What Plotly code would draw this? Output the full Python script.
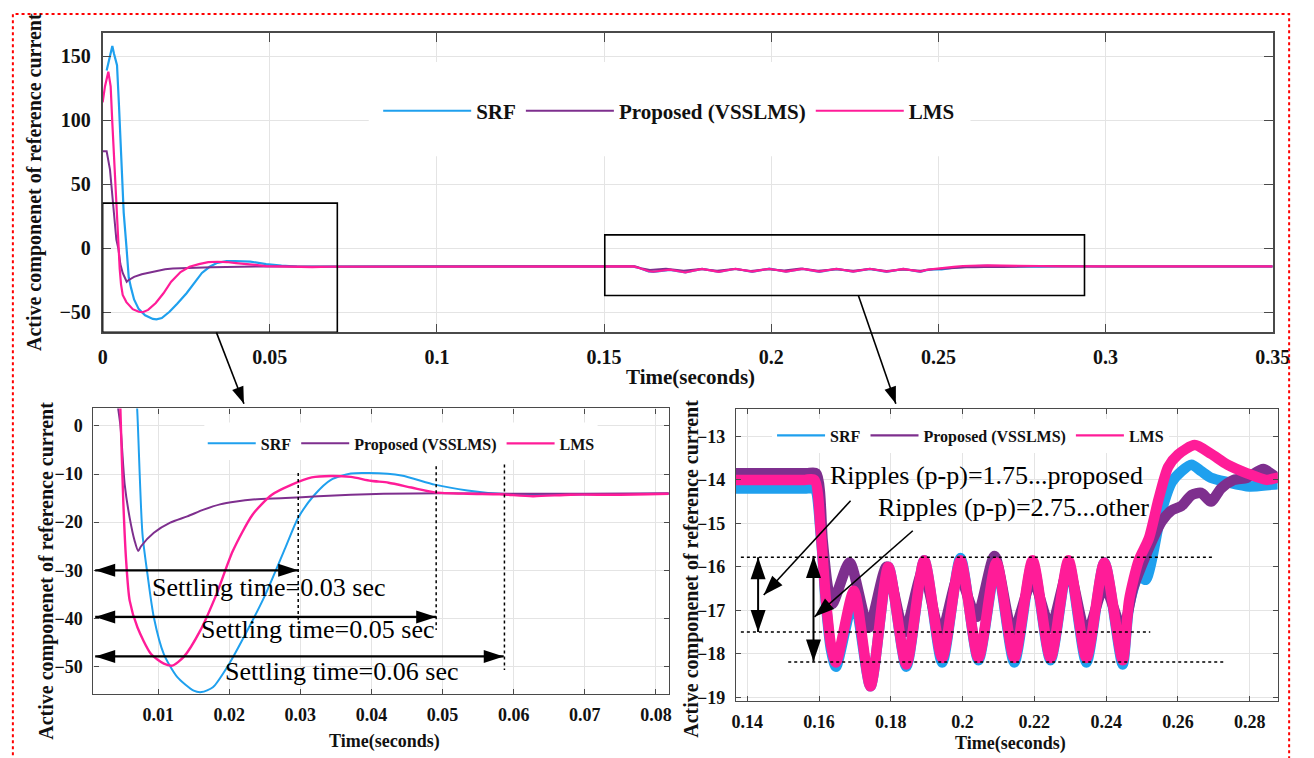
import math
import plotly.graph_objects as go

FIG_W, FIG_H = 1314, 758
FONT = "Liberation Serif, Times New Roman, Times, serif"

# ---------------- data ----------------
srf_t = [0.0012, 0.0022, 0.0029, 0.0034, 0.0043, 0.0049, 0.0056, 0.0063, 0.0071, 0.0078,
         0.0085, 0.0094, 0.0108, 0.0127, 0.0150, 0.0161, 0.0177, 0.0200, 0.0223, 0.0251,
         0.0279, 0.0297, 0.0320, 0.0343, 0.0371, 0.0396, 0.0442, 0.0489, 0.0535, 0.0581,
         0.0650, 0.0720, 0.0820, 0.1000, 0.1200, 0.1400, 0.1500, 0.1560, 0.1587, 0.1605,
         0.1619, 0.1633, 0.1647, 0.1697, 0.1743, 0.1793, 0.1843, 0.1893, 0.1943, 0.1994,
         0.2044, 0.2094, 0.2144, 0.2195, 0.2245, 0.2295, 0.2345, 0.2395, 0.2446, 0.2464,
         0.2491, 0.2510, 0.2555, 0.2583, 0.2610, 0.2638, 0.2665, 0.2692, 0.2738, 0.2800,
         0.2878, 0.3000, 0.3500]
srf_i = [139, 151, 158, 152, 143, 111, 67, 28, 2, -22.5,
         -30.8, -39.8, -47.4, -52.2, -55.0, -55.3, -54.3, -49.4, -43.2, -35.0,
         -25.3, -19.1, -14.3, -11.2, -9.9, -9.8, -10.3, -12.2, -13.4, -14.1,
         -14.3, -14.2, -14.1, -14.15, -14.2, -14.2, -14.2, -14.2, -14.2, -15.3,
         -16.85, -17.9, -18.3, -16.75, -18.75, -16.0, -18.3, -15.85, -18.2, -15.8,
         -18.15, -15.95, -18.2, -15.9, -18.15, -15.9, -18.2, -15.9, -18.25, -16.9,
         -16.2, -16.3, -14.7, -14.05, -13.8, -13.65, -13.8, -13.95, -14.05, -14.15,
         -14.1, -14.1, -14.05]

vss_t = [0.0, 0.0012, 0.0022, 0.0031, 0.0041, 0.0047, 0.0053, 0.0060, 0.0067, 0.0072,
         0.0076, 0.0094, 0.0117, 0.0141, 0.0164, 0.0187, 0.0210, 0.0233, 0.0279, 0.0325,
         0.0371, 0.0417, 0.0500, 0.0600, 0.0700, 0.0820, 0.1000, 0.1200, 0.1400, 0.1500,
         0.1565, 0.1592, 0.1610, 0.1624, 0.1637, 0.1685, 0.1738, 0.1788, 0.1838, 0.1889,
         0.1939, 0.1989, 0.2039, 0.2089, 0.2140, 0.2195, 0.2245, 0.2295, 0.2345, 0.2395,
         0.2446, 0.2475, 0.2505, 0.2528, 0.2555, 0.2583, 0.2610, 0.2638, 0.2665, 0.2692,
         0.2720, 0.2756, 0.2793, 0.2838, 0.2878, 0.3000, 0.3500]
vss_i = [75.8, 75.8, 61.6, 35.6, 7.0, 0.0, -12.2, -19.1, -23.9, -26.0,
         -25.0, -22.2, -20.1, -18.8, -17.4, -16.3, -15.7, -15.3, -15.0, -14.6,
         -14.3, -14.1, -14.0, -14.1, -14.1, -14.0, -13.9, -13.85, -13.85, -13.85,
         -13.85, -13.85, -15.4, -16.45, -16.85, -15.9, -17.4, -16.0, -17.5, -16.1,
         -17.55, -16.2, -17.15, -15.75, -17.5, -16.3, -17.4, -16.05, -17.55, -16.45,
         -17.45, -16.5, -15.85, -15.4, -14.95, -14.7, -14.6, -14.35, -14.3, -14.5,
         -14.2, -14.0, -13.95, -13.75, -13.95, -14.0, -14.0]

lms_t = [0.0, 0.0007, 0.0017, 0.0024, 0.0029, 0.0036, 0.0043, 0.0047, 0.0051, 0.0055,
         0.0060, 0.0071, 0.0090, 0.0108, 0.0120, 0.0136, 0.0159, 0.0182, 0.0205, 0.0233,
         0.0260, 0.0288, 0.0316, 0.0343, 0.0371, 0.0399, 0.0424, 0.0456, 0.0489, 0.0535,
         0.0580, 0.0627, 0.0680, 0.0750, 0.0820, 0.1000, 0.1200, 0.1400, 0.1500, 0.1560,
         0.1587, 0.1605, 0.1619, 0.1633, 0.1647, 0.1697, 0.1743, 0.1793, 0.1843, 0.1893,
         0.1943, 0.1994, 0.2044, 0.2094, 0.2144, 0.2195, 0.2245, 0.2295, 0.2345, 0.2395,
         0.2446, 0.2464, 0.2491, 0.2519, 0.2546, 0.2573, 0.2600, 0.2647, 0.2692, 0.2738,
         0.2793, 0.2847, 0.2878, 0.3000, 0.3500]
lms_i = [114, 126.5, 138, 126.5, 98, 59, 22, 3, -15.7, -28.0,
         -36.3, -41.9, -47.4, -49.4, -49.8, -48.0, -42.6, -35.0, -26.0, -18.4,
         -14.3, -12.2, -10.7, -10.4, -10.6, -11.4, -11.8, -12.8, -13.8, -14.1,
         -14.2, -14.6, -14.3, -14.3, -14.1, -14.0, -14.0, -14.0, -14.0, -14.0,
         -14.0, -15.24, -16.77, -17.8, -18.2, -16.55, -18.75, -16.0, -18.25, -15.85,
         -18.1, -15.85, -18.1, -15.9, -18.1, -15.85, -18.1, -15.85, -18.1, -15.9,
         -18.15, -16.77, -15.85, -15.35, -14.45, -13.7, -13.42, -13.2, -13.4, -13.65,
         -13.85, -14.0, -13.95, -14.0, -14.0]

series_names = ["SRF", "Proposed (VSSLMS)", "LMS"]
series_colors = ["#1FA0EE", "#7E2F8E", "#FF1C98"]

top_xticks = [0, 0.05, 0.1, 0.15, 0.2, 0.25, 0.3, 0.35]
top_xlabels = ["0", "0.05", "0.1", "0.15", "0.2", "0.25", "0.3", "0.35"]
top_yticks = [-50, 0, 50, 100, 150]
bl_xticks = [0.01, 0.02, 0.03, 0.04, 0.05, 0.06, 0.07, 0.08]
bl_xlabels = ["0.01", "0.02", "0.03", "0.04", "0.05", "0.06", "0.07", "0.08"]
bl_yticks = [0, -10, -20, -30, -40, -50]
br_xticks = [0.14, 0.16, 0.18, 0.2, 0.22, 0.24, 0.26, 0.28]
br_xlabels = ["0.14", "0.16", "0.18", "0.2", "0.22", "0.24", "0.26", "0.28"]
br_yticks = [-13, -14, -15, -16, -17, -18, -19]

assert len(srf_t) == len(srf_i) and len(vss_t) == len(vss_i) and len(lms_t) == len(lms_i)
series_t = [srf_t, vss_t, lms_t]
series_i = [srf_i, vss_i, lms_i]

# ---------------- geometry ----------------
def dom_x(l, r):
    return [l / FIG_W, r / FIG_W]

def dom_y(t, b):
    return [1 - b / FIG_H, 1 - t / FIG_H]

PANELS = {
    "top": dict(xd=dom_x(99.3, 1289.3), yd=dom_y(33, 335), xr=[0, 0.35], yr=[-65.5, 168.4]),
    "bl": dict(xd=dom_x(90, 675), yd=dom_y(411.7, 700), xr=[0.00091, 0.0818], yr=[-55.8, 3.63]),
    "br": dict(xd=dom_x(743.3, 1294.3), yd=dom_y(412.3, 706.7), xr=[0.1368, 0.2878], yr=[-19.09, -12.37]),
}
REFS = {"top": ("x", "y"), "bl": ("x2", "y2"), "br": ("x3", "y3")}


def scale(panel):
    p = PANELS[panel]
    sx = (p["xd"][1] - p["xd"][0]) * FIG_W / (p["xr"][1] - p["xr"][0])
    sy = (p["yd"][1] - p["yd"][0]) * FIG_H / (p["yr"][1] - p["yr"][0])
    return sx, sy


def axis_style(ticklen, fs, lw, standoff):
    return dict(showline=True, linecolor="#4a4a4a", linewidth=lw, mirror="ticks",
                ticks="inside", ticklen=ticklen, tickwidth=1.2, tickcolor="#4a4a4a",
                showgrid=True, gridcolor="#E4E4E4", gridwidth=1, zeroline=False,
                tickfont=dict(family=FONT, size=fs, color="#111111", weight="bold"),
                ticklabelstandoff=standoff)


fig = go.Figure()

panel_styles = [("top", "legend", [2.2, 2.0, 2.2], True, "linear"),
                ("bl", "legend2", [2.0, 2.0, 2.4], True, "spline"),
                ("br", "legend3", [10.5, 10.5, 10.5], False, "spline")]
for panel, leg, widths, inleg, shape in panel_styles:
    xr, yr = REFS[panel]
    for k in range(3):
        ln = dict(color=series_colors[k], width=widths[k], shape=shape)
        if shape == "spline":
            ln["smoothing"] = 0.7
        fig.add_trace(go.Scatter(
            x=series_t[k], y=series_i[k], mode="lines", name=series_names[k],
            line=ln, xaxis=xr, yaxis=yr, legend=leg, showlegend=inleg, hoverinfo="skip"))
# legend keys for the bottom-right panel (thin line samples, no data)
for k in range(3):
    fig.add_trace(go.Scatter(x=[None], y=[None], mode="lines", name=series_names[k],
                             line=dict(color=series_colors[k], width=2.2),
                             xaxis="x3", yaxis="y3", legend="legend3", hoverinfo="skip"))

layout = dict(width=FIG_W, height=FIG_H, margin=dict(l=0, r=0, t=0, b=0),
              paper_bgcolor="white", plot_bgcolor="white", showlegend=True)

axes = {
    "top": (dict(tickvals=top_xticks, ticktext=top_xlabels), dict(tickvals=top_yticks), 9, 20, 1.6, 6),
    "bl": (dict(tickvals=bl_xticks, ticktext=bl_xlabels), dict(tickvals=bl_yticks), 5, 18, 1.2, 4),
    "br": (dict(tickvals=br_xticks, ticktext=br_xlabels), dict(tickvals=br_yticks), 5, 18, 1.2, 4),
}
for panel, (xt, yt, tl, fs, lw, so) in axes.items():
    p = PANELS[panel]
    xr, yr = REFS[panel]
    xname = "xaxis" if xr == "x" else "xaxis" + xr[1:]
    yname = "yaxis" if yr == "y" else "yaxis" + yr[1:]
    xa = axis_style(tl, fs, lw, so)
    xa.update(xt)
    xa.update(domain=p["xd"], range=p["xr"], anchor=yr)
    ya = axis_style(tl, fs, lw, 6)
    ya.update(yt)
    ya.update(domain=p["yd"], range=p["yr"], anchor=xr)
    layout[xname] = xa
    layout[yname] = ya

def legend_cfg(xc, yc, fs, iw):
    return dict(x=xc / FIG_W, y=1 - yc / FIG_H, xanchor="center", yanchor="middle",
                orientation="h", bgcolor="white", borderwidth=0, itemwidth=iw,
                font=dict(family=FONT, size=fs, color="#111111", weight="bold"),
                tracegroupgap=0)

layout["legend"] = legend_cfg(675.5, 112, 21, 88)
layout["legend2"] = legend_cfg(403, 447, 16, 48)
layout["legend3"] = legend_cfg(982, 439, 16, 48)

fig.update_layout(**layout)

# ---------------- axis titles ----------------
def title_font(s):
    return dict(family=FONT, size=s, color="#111111", weight="bold")

YT = "Active componenet of reference current"
def add_title(text, px, py, size, angle=0):
    fig.add_annotation(text=text, x=px / FIG_W, y=1 - py / FIG_H, xref="paper", yref="paper",
                       xanchor="center", yanchor="middle", showarrow=False,
                       textangle=angle, font=title_font(size))

add_title("Time(seconds)", 697, 380, 21)
add_title(YT, 30, 183, 20, -90)
add_title("Time(seconds)", 386, 747, 18)
add_title(YT, 42, 575, 20, -90)
add_title("Time(seconds)", 1023, 749, 18)
add_title(YT, 698, 573, 20, -90)

# ---------------- annotation helpers ----------------
shapes = []

def line(xr, yr, x0, y0, x1, y1, w=1.5, dash=None, color="black"):
    d = dict(type="line", xref=xr, yref=yr, x0=x0, y0=y0, x1=x1, y1=y1,
             line=dict(color=color, width=w))
    if dash:
        d["line"]["dash"] = dash
    shapes.append(d)

def head(xr, yr, sx, sy, xfrom, yfrom, xtip, ytip, L, Wd):
    dx = (xtip - xfrom) * sx
    dy = (ytip - yfrom) * sy
    n = math.hypot(dx, dy)
    ux, uy = dx / n, dy / n
    bx, by = -L * ux, -L * uy
    px, py = -uy * Wd / 2, ux * Wd / 2
    path = "M0,0 L{:.2f},{:.2f} L{:.2f},{:.2f} Z".format(bx + px, by + py, bx - px, by - py)
    shapes.append(dict(type="path", xref=xr, yref=yr, xsizemode="pixel", ysizemode="pixel",
                       xanchor=xtip, yanchor=ytip, path=path, fillcolor="black",
                       line=dict(width=0)))

def arrow(panel, x0, y0, x1, y1, L=20, Wd=13, both=False, w=2.2):
    if panel == "paper":
        xr, yr, sx, sy = "paper", "paper", FIG_W, FIG_H
    else:
        xr, yr = REFS[panel]
        sx, sy = scale(panel)
    line(xr, yr, x0, y0, x1, y1, w=w)
    head(xr, yr, sx, sy, x0, y0, x1, y1, L, Wd)
    if both:
        head(xr, yr, sx, sy, x1, y1, x0, y0, L, Wd)

# white patches that hide the grid behind legend boxes
shapes.append(dict(type="rect", xref="x", yref="y", x0=0.0796, x1=0.2596, y0=71.9, y1=145.5,
                   fillcolor="white", line=dict(width=0), layer="between"))
shapes.append(dict(type="rect", xref="x2", yref="y2", x0=0.0165, x1=0.0718, y0=-0.7, y1=0.7,
                   fillcolor="white", line=dict(width=0), layer="between"))

# zoom boxes on the top panel
shapes.append(dict(type="rect", xref="x", yref="y", x0=0, x1=0.0702, y0=-65.5, y1=35.4,
                   line=dict(color="black", width=1.6)))
shapes.append(dict(type="rect", xref="x", yref="y", x0=0.1502, x1=0.2937, y0=-36.7, y1=10.6,
                   line=dict(color="black", width=1.6)))
arrow("paper", 215 / FIG_W, 1 - 335 / FIG_H, 243 / FIG_W, 1 - 407 / FIG_H, L=17, Wd=12, w=1.6)
arrow("paper", 868 / FIG_W, 1 - 298 / FIG_H, 906 / FIG_W, 1 - 407 / FIG_H, L=17, Wd=12, w=1.6)

# bottom-left: settling time markers
arrow("bl", 0.00115, -30.0, 0.0297, -30.0, both=True)
arrow("bl", 0.00115, -39.7, 0.0491, -39.7, both=True)
arrow("bl", 0.00115, -47.9, 0.0586, -47.9, both=True)
line("x2", "y2", 0.0297, -9.8, 0.0297, -40.3, w=1.5, dash="dot")
line("x2", "y2", 0.0491, -8.4, 0.0491, -42.4, w=1.5, dash="dot")
line("x2", "y2", 0.0587, -8.0, 0.0587, -50.7, w=1.5, dash="dot")

st_font = dict(family=FONT, size=26, color="black")
for txt, xx, yy in [("Settling time=0.03 sec", 0.02553, -33.5),
                    ("Settling time=0.05 sec", 0.0324, -42.4),
                    ("Settling time=0.06 sec", 0.03584, -51.0)]:
    fig.add_annotation(text=txt, x=xx, y=yy, xref="x2", yref="y2", xanchor="center",
                       yanchor="middle", showarrow=False, font=st_font)

# bottom-right: ripple markers
line("x3", "y3", 0.1382, -15.78, 0.2697, -15.78, w=1.5, dash="dot")
line("x3", "y3", 0.1382, -17.50, 0.2523, -17.50, w=1.5, dash="dot")
line("x3", "y3", 0.1514, -18.19, 0.2729, -18.19, w=1.5, dash="dot")
arrow("br", 0.1430, -15.78, 0.1430, -17.50, L=22, Wd=15, both=True, w=2)
arrow("br", 0.15844, -15.75, 0.15844, -18.18, L=22, Wd=15, both=True, w=2)
arrow("br", 0.16877, -14.48, 0.14457, -16.65, L=20, Wd=14, w=1.6)
arrow("br", 0.18611, -15.17, 0.15871, -17.15, L=20, Wd=14, w=1.6)

rp_font = dict(family=FONT, size=26, color="black")
for txt, xx, yy in [("Ripples (p-p)=1.75...proposed", 0.20666, -13.91),
                    ("Ripples (p-p)=2.75...other", 0.2142, -14.64)]:
    fig.add_annotation(text=txt, x=xx, y=yy, xref="x3", yref="y3", xanchor="center",
                       yanchor="middle", showarrow=False, font=rp_font)

# red dotted frame around the composite
shapes.append(dict(type="rect", xref="paper", yref="paper", x0=8 / FIG_W, x1=1306 / FIG_W,
                   y0=-0.02, y1=1 - 14 / FIG_H, line=dict(color="#FF0000", width=2, dash="dot")))

fig.update_layout(shapes=shapes)
fig.write_html("out.html")
